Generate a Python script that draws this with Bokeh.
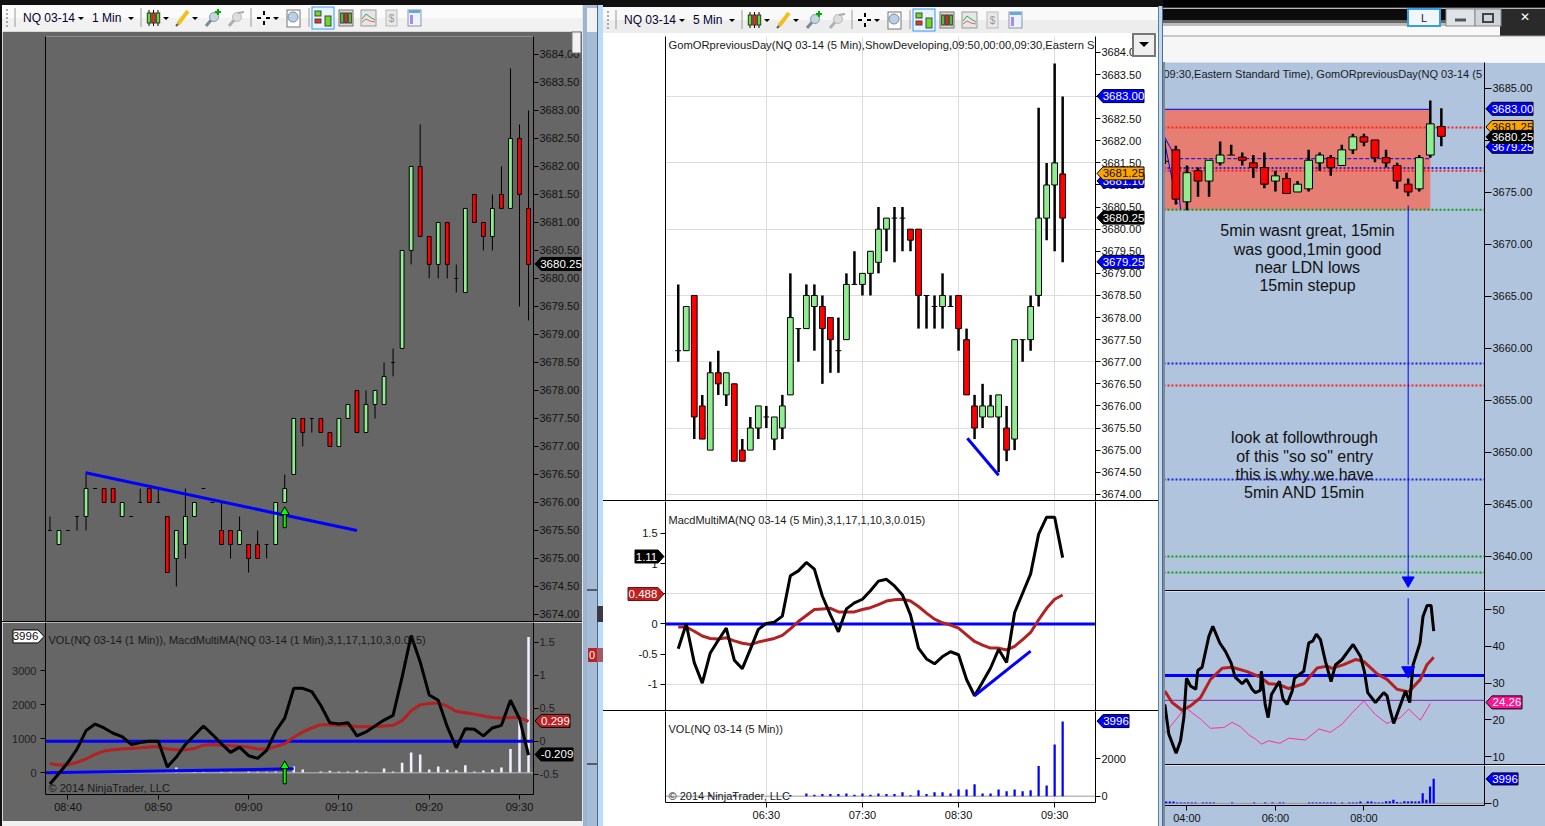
from bokeh.plotting import figure
from bokeh.layouts import row, column
from bokeh.embed import file_html
from bokeh.resources import INLINE
from bokeh.models import (Range1d, LinearAxis, FixedTicker, NumeralTickFormatter, Label, Grid, Div)

# ---------- 1 minute chart ----------
m1_open = [3675.5,3675.25,3675.5,3675.75,3675.75,3676.25,3676.25,3676.25,3675.75,3675.75,3676,3676.25,3676,3675.75,3675,3675.25,3675.75,3676.25,3676,3675.5,3675.5,3675.25,3675.25,3675.25,3675.25,3675.25,3676,3676.5,3677.5,3677.5,3677.5,3677.25,3677,3677.5,3678,3677.25,3677.75,3677.75,3678.5,3678.75,3680.5,3682,3680.75,3680.25,3681,3680,3679.75,3681.5,3681,3680.75,3681.5,3681.25,3682.5,3681.25]
m1_high = [3675.75,3675.5,3675.5,3675.75,3676.5,3676.25,3676.25,3676.25,3676,3675.75,3676.25,3676.25,3676.25,3675.75,3675.5,3676.25,3676,3676.25,3676,3676,3675.5,3675.75,3675.25,3675.5,3675.25,3676,3676.5,3677.5,3677.5,3677.5,3677.5,3677.25,3677.5,3677.75,3678,3678,3678,3678.5,3678.75,3680.5,3682,3682.75,3680.75,3681,3681,3680.25,3681.25,3681.5,3681,3681.5,3682,3683.75,3682.75,3683]
m1_low = [3675.5,3675.25,3675.5,3675.5,3675.5,3676.25,3676,3676,3675.75,3675.75,3676,3676,3676,3674.75,3674.5,3675,3675.75,3676.25,3676,3675.25,3675,3675.25,3674.75,3675,3675,3675.25,3676,3676.5,3677,3677.25,3677.25,3677,3677,3677.5,3677.25,3677.25,3677.5,3677.75,3678.25,3678.75,3680.25,3680.75,3680,3680,3680,3679.75,3679.75,3681,3680.5,3680.5,3681.25,3681.25,3679.5,3679.25]
m1_close = [3675.5,3675.5,3675.5,3675.75,3676.25,3676.25,3676,3676,3676,3675.75,3676,3676,3676,3674.75,3675.5,3675.75,3676,3676.25,3676,3675.25,3675.25,3675.5,3675,3675,3675.25,3676,3676.25,3677.5,3677.25,3677.5,3677.25,3677,3677.5,3677.75,3677.25,3677.75,3678,3678.25,3678.5,3680.5,3682,3680.75,3680.25,3681,3680.25,3680,3681.25,3681,3680.75,3681.25,3681.25,3682.5,3681.5,3680.25]
m1_macd = [-0.65,-0.49,-0.32,-0.12,0.16,0.26,0.20,0.12,0.07,-0.05,-0.02,0.0,0.0,-0.39,-0.24,-0.05,0.09,0.23,0.10,-0.04,-0.17,-0.09,-0.22,-0.26,-0.14,0.15,0.35,0.80,0.80,0.75,0.54,0.28,0.26,0.28,0.08,0.14,0.23,0.32,0.39,0.97,1.60,1.20,0.70,0.62,0.22,-0.10,0.19,0.18,0.08,0.20,0.24,0.62,0.34,-0.21]
m1_avg = [-0.34,-0.36,-0.36,-0.32,-0.27,-0.20,-0.15,-0.13,-0.12,-0.11,-0.10,-0.09,-0.08,-0.12,-0.13,-0.13,-0.11,-0.06,-0.05,-0.06,-0.07,-0.08,-0.09,-0.12,-0.12,-0.08,-0.04,0.06,0.14,0.20,0.25,0.25,0.24,0.24,0.22,0.22,0.22,0.23,0.24,0.31,0.46,0.55,0.57,0.58,0.53,0.45,0.43,0.41,0.38,0.36,0.35,0.36,0.36,0.30]
m1_vol = [0,0,0,30,0,0,0,0,0,0,0,0,0,20,160,0,30,30,0,30,30,0,40,30,30,40,60,190,100,0,40,60,40,40,70,40,0,130,40,300,600,540,100,190,90,70,220,40,70,100,160,700,1590,3996]
m1_ticks = [2,12,22,32,42,52]
m1_labels = ["08:40","08:50","09:00","09:10","09:20","09:30"]

# ---------- 5 minute chart ----------
m5_open = [3677.25,3677.25,3678.5,3676,3675,3676.75,3676.25,3676.5,3675,3675,3675.5,3675.75,3675.25,3675.5,3676.25,3677.75,3677.75,3678.25,3678.25,3678,3677.25,3677.5,3678.75,3678.75,3679,3679.25,3680,3680.25,3680.25,3680,3680,3678.5,3678.25,3678.25,3678.25,3678.5,3677.5,3676,3675.75,3675.75,3675.75,3675.5,3675.25,3677.5,3677.5,3678.5,3680.25,3681,3681.25]
m5_high = [3678.75,3678.25,3678.5,3676.25,3677,3677.25,3676.75,3676.5,3675.25,3675.75,3676,3676,3675.75,3676.25,3679,3677.75,3678.75,3678.75,3678.5,3678,3678,3679,3679.5,3679,3679.5,3680.5,3680.25,3680.5,3680.5,3680,3680,3678.5,3678.5,3679,3678.5,3678.5,3677.75,3676.25,3676.5,3676.25,3676.25,3676,3677.5,3677.5,3678.5,3682.75,3681.5,3683.75,3683]
m5_low = [3677,3677.25,3675.25,3675.25,3675,3676.25,3676,3674.75,3674.75,3675,3675.25,3675.5,3675,3675.25,3676.25,3677,3677.75,3677.25,3676.5,3676.75,3676.75,3677.5,3678.75,3678.5,3678.5,3679,3679.5,3679.25,3679.5,3679.5,3677.75,3677.75,3677.75,3677.75,3678.25,3677.25,3676.25,3675.25,3675.5,3675.75,3674.5,3674.75,3675,3677,3677.25,3678.25,3679.75,3679.5,3679.25]
m5_close = [3677.25,3678.25,3675.75,3675.25,3676.75,3676.5,3676.75,3674.75,3674.75,3675.5,3676,3675.75,3675.75,3676,3678,3677.75,3678.5,3678.5,3677.75,3677.5,3677.25,3678.75,3678.75,3679,3679.5,3680,3680.25,3680.25,3680.25,3679.75,3678.5,3678.5,3678.25,3678.5,3678.25,3677.75,3676.25,3675.5,3676,3676,3676.25,3675,3677.5,3677.5,3678.25,3680.25,3681,3681.5,3680.25]
m5_macd = [-0.41,0,-0.64,-0.98,-0.48,-0.27,-0.07,-0.60,-0.74,-0.42,-0.09,0.01,0.03,0.13,0.80,0.88,1.02,0.91,0.46,0.15,-0.13,0.25,0.35,0.41,0.55,0.71,0.74,0.63,0.48,0.15,-0.40,-0.58,-0.66,-0.54,-0.46,-0.51,-0.92,-1.19,-0.96,-0.73,-0.42,-0.64,0.19,0.51,0.83,1.49,1.77,1.77,1.10]
m5_avg = [-0.05,-0.05,-0.12,-0.20,-0.24,-0.25,-0.23,-0.28,-0.32,-0.34,-0.30,-0.27,-0.24,-0.19,-0.08,0.04,0.14,0.24,0.25,0.26,0.20,0.20,0.20,0.24,0.27,0.32,0.38,0.40,0.41,0.38,0.29,0.18,0.08,0.02,-0.02,-0.07,-0.18,-0.29,-0.35,-0.40,-0.40,-0.43,-0.37,-0.26,-0.14,0.07,0.26,0.41,0.48]
m5_vol = [0,0,0,0,70,0,0,70,0,0,0,0,0,0,60,0,140,70,110,110,110,140,70,140,70,140,110,110,210,50,320,110,210,210,140,360,360,640,140,140,360,270,360,270,320,1610,570,2770,3996]
m5_ticks = [11,23,35,47]
m5_labels = ["06:30","07:30","08:30","09:30"]

# ---------- 15 minute chart ----------
m15_open = [3678,3679.1,3674.1,3677.1,3676.1,3677.85,3678.6,3678.4,3677.85,3677.4,3676.1,3676.35,3675.05,3675.35,3677.85,3678.35,3677.6,3679.1,3680.35,3680.05,3678.35,3677.6,3675.8,3675.35,3678.6,3681.35]
m15_high = [3680,3679.5,3677.6,3677.4,3678.1,3679.9,3679.6,3678.85,3678.6,3678.85,3677.1,3676.9,3676.1,3679.1,3678.85,3678.6,3679.6,3680.65,3680.65,3680.05,3679.1,3677.85,3676.35,3678.6,3683.85,3683.1]
m15_low = [3677.75,3673.85,3673.3,3674.6,3674.6,3677.6,3678.6,3677.6,3676.4,3675.4,3675.1,3674.9,3675.05,3675.1,3677.1,3676.6,3677.6,3678.7,3679.45,3677.9,3677.4,3675.35,3674.65,3675.1,3678.35,3679.45]
m15_close = [3678,3674.36,3676.9,3676.1,3678.1,3678.6,3678.6,3678.1,3677.4,3675.8,3676.6,3674.9,3675.8,3678.1,3678.6,3677.4,3679.1,3680.35,3679.85,3678.35,3677.85,3676.1,3675.05,3678.35,3681.6,3680.4]
m15_black_t = [0,.36,1.02,1.42,1.72,1.96,2.32,2.80,2.98,3.37,3.98,4.34,4.97,5.48,5.99,6.36,6.99,7.38,7.89,8.19,8.64,8.73,9.07,9.34,9.64,10.36,10.69,11.05,11.51,11.72,12.56,13.01,13.37,13.70,14.07,14.52,15.03,15.42,16.02,17.02,17.68,18.04,18.34,19.04,19.79,20.09,20.39,20.69,21.75,22.14,22.44,23.07,23.34,23.71,24.07,24.31]
m15_black = [24.2,16.1,10.9,14.3,20.6,31.3,29.2,28.3,33.4,34.3,42.7,45.4,40.9,38.6,35.5,31.6,29.8,31.0,28.3,27.4,28.0,33.2,24.2,20.6,26.9,30.5,25.6,24.2,27.8,31.3,33.2,40.9,41.4,43.3,41.8,35.9,30.4,34.9,36.4,40.5,37.3,33.2,27.4,24.7,27.4,26.5,22.4,19.0,27.8,24.7,34.9,40.9,48.1,51.1,51.1,44.1]
m15_red_t = [0,.66,1.57,2.32,3.22,4.13,5.18,6.08,7.44,8.64,9.40,10.30,11.20,12.56,13.77,14.67,15.12,16.17,17.23,17.98,19.19,20.09,20.99,22.05,23.10,23.70,24.31]
m15_red = [27.8,24.7,22.6,23.8,26.0,31.0,34.0,34.3,33.1,31.6,29.8,29.6,28.5,29.8,34.1,34.6,34.0,35.0,36.4,35.9,32.5,31.0,28.3,27.6,31.0,35.0,37.0]
m15_pink_t = [0,1.87,3.22,4.13,5.33,6.08,6.84,7.59,8.19,8.73,9.40,10.39,11.20,12.71,13.92,14.97,16.02,16.93,17.98,19.04,20.09,21.30,22.05,23.10,24.0]
m15_pink = [16.3,23.3,20.2,17.7,17.9,19.3,18.1,15.9,14.8,13.4,14.3,13.6,15.0,14.5,17.5,16.6,18.8,21.9,25.1,21.4,19.0,20.6,22.9,19.9,24.4]
m15_vol = [300,300,300,150,150,150,150,150,150,0,150,150,150,150,0,0,0,0,150,0,0,0,0,0,150,0,0,150,0,150,0,150,150,0,0,0,0,0,0,150,150,150,150,150,150,150,150,0,150,0,150,150,150,300,0,300,300,150,150,150,350,350,600,200,150,350,300,350,300,350,1650,600,2750,3996]
m15_ticks = [2,10,18]
m15_labels = ["04:00","06:00","08:00"]
m15_dotted = [(3681.25,"#ff2020"),(3677.35,"#2020e0"),(3677.1,"#ff2020"),(3673.33,"#119911"),(3658.56,"#2020e0"),(3656.44,"#ff2020"),(3647.4,"#2020e0"),(3640.0,"#119911"),(3638.46,"#119911")]

FONT = "Liberation Sans"
GREEN, RED = "#90EE90", "#FF0000"
META = {}


# ---- window chrome: plain page elements, not charts ----
class Svg:
    def __init__(self):
        self.parts = []

    def rect(self, x, y, w, h, fill, stroke=None, sw=1):
        s = f' stroke="{stroke}" stroke-width="{sw}"' if stroke else ""
        self.parts.append(f'<rect x="{x}" y="{y}" width="{w}" height="{h}" fill="{fill}"{s}/>')

    def line(self, x0, y0, x1, y1, c="#000000", w=1):
        self.parts.append(f'<line x1="{x0}" y1="{y0}" x2="{x1}" y2="{y1}" stroke="{c}" stroke-width="{w}"/>')

    def poly(self, pts, fill, stroke="none"):
        p = " ".join(f"{a},{b}" for a, b in pts)
        self.parts.append(f'<polygon points="{p}" fill="{fill}" stroke="{stroke}"/>')

    def path(self, pts, c, w=1):
        p = " ".join(f"{a},{b}" for a, b in pts)
        self.parts.append(f'<polyline points="{p}" fill="none" stroke="{c}" stroke-width="{w}"/>')

    def circle(self, x, y, r, fill, stroke):
        self.parts.append(f'<circle cx="{x}" cy="{y}" r="{r}" fill="{fill}" stroke="{stroke}"/>')

    def text(self, x, y, s, size=12, c="#000033", anchor="start", font=FONT):
        self.parts.append(f'<text x="{x}" y="{y}" font-family="{font}" font-size="{size}" fill="{c}" '
                          f'text-anchor="{anchor}" dominant-baseline="central">{s}</text>')


def div(w, h, bg, svg=None):
    inner = "".join(svg.parts) if svg else ""
    return Div(text=f'<svg width="{w}" height="{h}" style="display:block">{inner}</svg>', width=w, height=h, margin=0,
               styles={"background": bg, "overflow": "hidden", "line-height": "0", "padding": "0"})


def toolbar(s, dx, cy, interval):
    caret = lambda x: s.poly([(x - 3, cy - 1), (x + 3, cy - 1), (x, cy + 2)], "black")
    for yy in (cy - 8, cy - 4, cy, cy + 4, cy + 8):
        s.rect(6 + dx, yy - 1, 2, 2, "#aaaaaa")
    for xx in (15, 141, 251, 309):
        s.line(xx + dx, cy - 10, xx + dx, cy + 9, "#9a9a9a")
    s.text(23 + dx, cy, "NQ 03-14")
    caret(81 + dx)
    s.text(92 + dx, cy, interval)
    caret(131 + dx)
    for xx, c in ((149, "#66dd22"), (153.5, "#ee3322"), (158, "#66dd22")):
        s.line(xx + dx, cy - 8, xx + dx, cy + 8)
        s.rect(xx - 1.7 + dx, cy - 5, 3.4, 10, c, "#333333")
    caret(166 + dx)
    s.line(178 + dx, cy + 6, 188 + dx, cy - 7, "#f0c020", 4)
    s.line(176 + dx, cy + 8, 178 + dx, cy + 6, "#555555", 2)
    caret(195 + dx)
    s.line(206 + dx, cy + 8, 212 + dx, cy + 1, "#7a8a99", 3)
    s.circle(214 + dx, cy - 1, 4.5, "#c7d5e0", "#8899aa")
    s.line(215 + dx, cy - 6, 221 + dx, cy - 6, "#00aa00", 2)
    s.line(218 + dx, cy - 9, 218 + dx, cy - 3, "#00aa00", 2)
    s.line(229 + dx, cy + 8, 235 + dx, cy + 1, "#b0b0b0", 3)
    s.circle(237 + dx, cy - 1, 4.5, "#dddddd", "#bbbbbb")
    s.line(238 + dx, cy - 5, 244 + dx, cy - 6, "#aaaaaa", 2)
    for a, b, c_, d_ in ((257, cy, 261, cy), (266, cy, 270, cy), (264, cy - 7, 264, cy - 3), (264, cy + 3, 264, cy + 7)):
        s.line(a + dx, b, c_ + dx, d_, "black", 2)
    caret(276 + dx)
    s.rect(287 + dx, cy - 8, 13, 17, "white", "#777777")
    s.circle(293 + dx, cy - 1, 5, "#b8d0ea", "#7a8a99")
    s.rect(312 + dx, cy - 11, 22, 22, "#eaf4ff", "#3399ff")
    for xx, y0, y1, c in ((318, cy - 7, cy - 2, "#66dd22"), (318, cy + 1, cy + 5, "#ee3322"), (328, cy - 2, cy + 8, "#66dd22")):
        s.rect(xx - 3 + dx, y0, 6, y1 - y0, c, "#444444")
    s.rect(339 + dx, cy - 8, 14, 16, "#d8d8d8", "#777777")
    for xx, c in ((342, "#66dd22"), (346, "#ee3322"), (350, "#66dd22")):
        s.rect(xx - 1.3 + dx, cy - 5, 2.6, 10, c, "#333333")
    s.rect(361 + dx, cy - 8, 15, 16, "#e6e6e6", "#999999")
    s.path([(362 + dx, cy + 1), (366 + dx, cy - 4), (370 + dx, cy - 1), (375 + dx, cy + 2)], "#33aa55")
    s.path([(362 + dx, cy + 4), (366 + dx, cy + 1), (370 + dx, cy + 3), (375 + dx, cy + 4)], "#dd6666")
    s.rect(386 + dx, cy - 8, 11, 16, "#e8e8e8", "#bbbbbb")
    s.text(391.5 + dx, cy, "$", 10, "#999999", "middle")
    s.rect(408 + dx, cy - 8, 13, 16, "#eef3fb", "#8899aa")
    s.rect(409 + dx, cy - 8, 11, 3, "#66aadd")
    s.rect(410 + dx, cy - 3, 3, 9, "#aa88ee")


def panel(w, h, xr, yr, bg, bl, br, bt, bb, frame_abs, frame_top, yside="right", bottom=False):
    p = figure(width=w, height=h, x_range=Range1d(*xr), y_range=Range1d(*yr), toolbar_location=None,
               output_backend="svg", x_axis_location="below" if bottom else None,
               y_axis_location=yside, min_border_left=bl, min_border_right=br, min_border_top=bt,
               min_border_bottom=bb, background_fill_color=bg, border_fill_color=bg, outline_line_color=None)
    p.grid.visible = False
    META[id(p)] = dict(left=frame_abs, top=frame_top, fh=h - bt - bb)
    return p


def style_axis(a, ticks, fmt="0.00", tc="#111111"):
    a.ticker = FixedTicker(ticks=ticks)
    a.formatter = NumeralTickFormatter(format=fmt)
    a.minor_tick_line_color = None
    a.major_tick_in = 0
    a.major_tick_out = 5
    a.major_label_standoff = 1
    a.axis_line_color = "black"
    a.major_tick_line_color = "black"
    a.major_label_text_font = FONT
    a.major_label_text_font_size = "11px"
    a.major_label_text_color = tc


def bare_axis(p, side):
    a = LinearAxis(ticker=FixedTicker(ticks=[]), major_label_text_font_size="0px", minor_tick_line_color=None,
                   major_tick_line_color=None, axis_line_color="black")
    p.add_layout(a, side)


def time_axis(p, ticks, labels, standoff):
    a = p.xaxis[0]
    a.ticker = FixedTicker(ticks=ticks)
    a.major_label_overrides = dict(zip(ticks, labels))
    a.minor_tick_line_color = None
    a.major_tick_in = 0
    a.major_tick_out = 5
    a.major_label_standoff = standoff
    a.axis_line_color = "black"
    a.major_tick_line_color = "black"
    a.major_label_text_font = FONT
    a.major_label_text_font_size = "11px"
    a.major_label_text_color = "#111111"


def candles(p, o, h, l, c, bw, wick):
    x = list(range(len(o)))
    p.segment(x, h, x, l, line_color="black", line_width=wick)
    for i in range(len(o)):
        if o[i] == c[i]:
            p.segment([x[i] - bw / 2], [o[i]], [x[i] + bw / 2], [o[i]], line_color="black", line_width=1)
    gi = [i for i in range(len(o)) if c[i] > o[i]]
    ri = [i for i in range(len(o)) if c[i] < o[i]]
    p.vbar([x[i] for i in gi], top=[c[i] for i in gi], bottom=[o[i] for i in gi], width=bw,
           fill_color=GREEN, line_color="black", line_width=1)
    p.vbar([x[i] for i in ri], top=[o[i] for i in ri], bottom=[c[i] for i in ri], width=bw,
           fill_color=RED, line_color="black", line_width=1)


def text(p, px, val, s, size="11px", color="#1a1a1a", align="left"):
    p.add_layout(Label(x=px - META[id(p)]["left"], y=val, x_units="screen", y_units="data", text=s, text_font=FONT,
                       text_font_size=size, text_color=color, text_align=align, text_baseline="middle"))


OV = Svg()  # price tags that sit over the axes; their height comes from the panel's scale


def tag(p, x0, x1, val, s, fill, color="white", rng=None, point="left", line="#000000", hh=6.5):
    rng = rng or p.y_range
    m = META[id(p)]
    y = m["top"] + (rng.end - val) / (rng.end - rng.start) * m["fh"]
    if point == "left":
        pts = [(x0, y), (x0 + 6, y - hh), (x1, y - hh), (x1, y + hh), (x0 + 6, y + hh)]
        mid = (x0 + 6 + x1) / 2
    else:
        pts = [(x1, y), (x1 - 6, y - hh), (x0, y - hh), (x0, y + hh), (x1 - 6, y + hh)]
        mid = (x0 + x1 - 6) / 2
    OV.poly(pts, fill, line)
    OV.text(mid, y, s, 11.5, color, "middle")


def sep(w, color="#000000"):
    return div(w, 1, color)


# ================= left window =================
LGREY = "#666666"
L_W = 580
xr1 = (-0.49, 53.55)
s = Svg()
s.rect(0, 0, L_W, 5, "#111111")
s.rect(0, 5, L_W, 13, "#fbfbfb")
s.rect(0, 18, L_W, 13, "#f1f1f1")
toolbar(s, -2, 18, "1 Min")
t1 = div(L_W, 31, "#f7f7f7", s)

pr1 = (3673.875, 3684.32)
p1 = panel(L_W, 590, xr1, pr1, LGREY, 43, 48, 5, 0, 45, 36)
style_axis(p1.yaxis[0], [3674 + i * 0.5 for i in range(21)])
bare_axis(p1, "left")
candles(p1, m1_open, m1_high, m1_low, m1_close, 0.42, 1)
p1.line([3.95, 34.0], [3676.53, 3675.5], line_color="#0000FF", line_width=3)
p1.vbar([26], top=[3675.8], bottom=[3675.55], width=0.34, fill_color="#00FF00", line_color="black")
p1.scatter([26], [3675.83], marker="triangle", size=9, fill_color="#00FF00", line_color="black")
tag(p1, 535, 581, 3680.25, "3680.25", "#000000", hh=6.5)

vr1 = (-637, 4421)
mr1 = Range1d(-0.808, 1.798)
v1 = panel(L_W, 199, xr1, vr1, LGREY, 43, 48, 0, 27, 45, 622, yside="left", bottom=True)
style_axis(v1.yaxis[0], [0, 1000, 2000, 3000], "0", "#222222")
v1.yaxis[0].major_label_standoff = 4
v1.extra_y_ranges = {"macd": mr1}
ma1 = LinearAxis(y_range_name="macd")
style_axis(ma1, [-0.5, 0, 0.5, 1, 1.5], "0.[0]", "#222222")
v1.add_layout(ma1, "right")
time_axis(v1, m1_ticks, m1_labels, 1)
v1.vbar(list(range(54)), top=m1_vol, bottom=0, width=0.28, fill_color="#F0F0FF", line_color=None)
v1.line([-0.49, 53.55], [0, 0], line_color="#bbbbbb", line_width=1)
v1.line([-0.49, 53.55], [0, 0], y_range_name="macd", line_color="#0000FF", line_width=3)
v1.line([-0.49, 27], [0, 117], line_color="#0000FF", line_width=3)
v1.line(list(range(54)), m1_avg, y_range_name="macd", line_color="#B22222", line_width=3)
v1.line(list(range(54)), m1_macd, y_range_name="macd", line_color="black", line_width=3)
v1.vbar([26], top=[160], bottom=[-323], width=0.34, fill_color="#00FF00", line_color="black")
v1.scatter([26], [200], marker="triangle", size=9, fill_color="#00FF00", line_color="black")
text(v1, 48, 3892, "VOL(NQ 03-14 (1 Min)), MacdMultiMA(NQ 03-14 (1 Min),3,1,17,1,10,3,0.015)")
text(v1, 48, -450, "© 2014 NinjaTrader, LLC")
tag(v1, 13, 44, 3996, "3996", "#ffffff", "#111111", point="right")
tag(v1, 535, 570, 0.299, "0.299", "#C02020", rng=mr1)
tag(v1, 535, 573, -0.209, "-0.209", "#000000", rng=mr1)
f1 = div(L_W, 5, "#f0f0f0")
left_col = column(t1, p1, sep(L_W), v1, f1, spacing=0)
edge = div(2, 826, "#111111")
OV.rect(572, 32, 9, 21, "#f2f2f2", "#777777")

# ================= gap between windows =================
s = Svg()
s.rect(0, 0, 21, 826, "#a6bbd6")
s.rect(0, 0, 1, 826, "#dfe6ee")
s.rect(1, 8, 4, 818, "#9fb3cc")
s.rect(15, 5, 1, 821, "#566676")
s.rect(16, 5, 5, 821, "#b9dcf8")
s.rect(0, 0, 21, 5, "#111111")
s.rect(5, 8, 10, 24, "#f2f2f2")
s.rect(6, 648, 9, 14, "#C02020")
s.text(10, 655, "0", 11, "white", "middle")
s.line(5, 590, 15, 590)
s.line(5, 764, 15, 764)
s.rect(15, 606, 6, 16, "#3a3a44")
s.rect(15, 648, 6, 14, "#a05a68")
g1 = div(21, 826, "#a6bbd6", s)

# ================= middle window =================
M_W = 555
xr5 = (-1.59, 52.1)
GC = "#DDDDDD"
s = Svg()
s.rect(0, 0, M_W, 7, "#111111")
s.rect(0, 7, M_W, 13, "#f9f9f9")
s.rect(0, 20, M_W, 13, "#ededed")
toolbar(s, -2, 20, "5 Min")
t5 = div(M_W, 33, "#f3f3f3", s)

pr5 = (3673.86, 3684.36)
p5 = panel(M_W, 467, xr5, pr5, "white", 62, 63, 3, 0, 665, 36)
style_axis(p5.yaxis[0], [3674 + i * 0.5 for i in range(21)])
bare_axis(p5, "left")
p5.add_layout(Grid(dimension=1, ticker=FixedTicker(ticks=[3674, 3675.5, 3677, 3678.5, 3680, 3681.5, 3683]), grid_line_color=GC))
p5.add_layout(Grid(dimension=0, ticker=FixedTicker(ticks=m5_ticks), grid_line_color=GC))
candles(p5, m5_open, m5_high, m5_low, m5_close, 0.72, 2.5)
p5.line([36.1, 40], [3675.27, 3674.43], line_color="#0000FF", line_width=3)
text(p5, 668, 3684.16, "GomORpreviousDay(NQ 03-14 (5 Min),ShowDeveloping,09:50,00:00,09:30,Eastern S", size="11.2px")
tag(p5, 1097, 1144, 3683.0, "3683.00", "#0000FF")
tag(p5, 1097, 1144, 3681.08, "3681.10", "#0000FF")
tag(p5, 1097, 1144, 3681.25, "3681.25", "#FFA500", "#111111")
tag(p5, 1097, 1144, 3680.25, "3680.25", "#000000")
tag(p5, 1097, 1144, 3679.25, "3679.25", "#0000FF")
OV.rect(1133, 34, 22, 22, "#efefef", "#777777", 2)
OV.poly([(1139, 42), (1149, 42), (1144, 47)], "#000000")

mr5 = (-1.434, 2.03)
m5 = panel(M_W, 209, xr5, mr5, "white", 62, 63, 0, 0, 665, 501, yside="left")
style_axis(m5.yaxis[0], [-1, -0.5, 0, 0.5, 1, 1.5], "0.[0]")
m5.yaxis[0].major_label_standoff = 3
bare_axis(m5, "right")
m5.add_layout(Grid(dimension=1, ticker=FixedTicker(ticks=[-1, 0.5]), grid_line_color=GC))
m5.add_layout(Grid(dimension=0, ticker=FixedTicker(ticks=m5_ticks), grid_line_color=GC))
m5.line([-1.59, 52.1], [0, 0], line_color="#0000FF", line_width=3)
m5.line(list(range(49)), m5_avg, line_color="#B22222", line_width=3)
m5.line(list(range(49)), m5_macd, line_color="black", line_width=3)
m5.line([37, 44], [-1.19, -0.45], line_color="#0000FF", line_width=3)
text(m5, 668, 1.73, "MacdMultiMA(NQ 03-14 (5 Min),3,1,17,1,10,3,0.015)")
tag(m5, 635, 664, 1.11, "1.11", "#000000", point="right")
tag(m5, 628, 664, 0.488, "0.488", "#C02020", point="right", line="#661111")

vr5 = (-339, 4536)
v5 = panel(M_W, 115, xr5, vr5, "white", 62, 63, 0, 24, 665, 711, bottom=True)
style_axis(v5.yaxis[0], [0, 2000], "0")
bare_axis(v5, "left")
time_axis(v5, m5_ticks, m5_labels, 1)
v5.add_layout(Grid(dimension=0, ticker=FixedTicker(ticks=m5_ticks), grid_line_color=GC))
v5.line([-1.59, 52.1], [0, 0], line_color="#999999", line_width=1)
v5.vbar(list(range(49)), top=m5_vol, bottom=0, width=0.28, fill_color="#0000FF", line_color=None)
text(v5, 668, 3592, "VOL(NQ 03-14 (5 Min))")
text(v5, 668, 0, "© 2014 NinjaTrader, LLC")
tag(v5, 1097, 1129, 3996, "3996", "#0000FF")
mid_col = column(t5, p5, sep(M_W), m5, sep(M_W), v5, spacing=0)

s = Svg()
s.rect(0, 0, 5, 826, "#b9dcf8")
s.rect(0, 0, 1, 826, "#6a7a8a")
s.rect(4, 0, 1, 826, "#5a6a7a")
s.rect(0, 0, 5, 6, "#111111")
g2 = div(5, 826, "#b9dcf8", s)

# ================= right window =================
BL = "#B0C4DE"
R_W = 382
xr15 = (-0.12, 28.9)
s = Svg()
s.rect(0, 0, R_W, 62, "#f6f6f6")
s.rect(0, 0, R_W, 8, "#000000")
s.line(0, 8, R_W, 8, "#777777")
s.rect(0, 9, 337, 11, "#0c0c0c")
s.rect(0, 20, 337, 3, "#666666")
s.rect(0, 23, 337, 3, "#bbbbbb")
s.rect(0, 26, 337, 10, "#f8f8f8")
s.rect(337, 9, 45, 27, "#2a2a2a")
s.line(0, 36, R_W, 36, "#999999")
s.rect(245, 9, 32, 17, "#f2f6fb", "#33a0e0", 2)
s.text(261, 17.5, "L", 11, "#222222", "middle")
s.rect(283, 9, 29, 17, "#dfe3e8", "#888888")
s.rect(312, 9, 26, 17, "#cfd4da", "#888888")
s.line(292, 20, 303, 20, "#555555", 3)
s.rect(320, 14, 10, 8, "none", "#444444", 2)
s.text(362, 17, "✕", 12, "white", "middle", "DejaVu Sans")
t15 = div(R_W, 62, "#f6f6f6", s)

pr15 = (3636.73, 3687.5)
p15 = panel(R_W, 528, xr15, pr15, BL, 0, 61, 0, 0, 1163, 62)
style_axis(p15.yaxis[0], [3640 + i * 5 for i in range(10)])
p15.yaxis[0].major_tick_out = 7
p15.quad(left=[-0.12], right=[24.0], top=[3683], bottom=[3673.33], fill_color="#E67E73", line_color=None)
for lvl, col in m15_dotted:
    p15.line([-0.12, 28.9], [lvl, lvl], line_color=col, line_width=2, line_dash="2 2")
p15.line([-0.12, 24.0], [3683, 3683], line_color="#0000FF", line_width=1)
p15.line([1.3, 24.0], [3678.25, 3678.25], line_color="#0000FF", line_width=1, line_dash="4 2")
p15.line([0, 0.96, 1.42], [3680.3, 3678.4, 3673.4], line_color="#0000FF", line_width=1)
p15.line([0.06, 1.12], [3679.4, 3673.9], line_color="#0000FF", line_width=1)
candles(p15, m15_open, m15_high, m15_low, m15_close, 0.7, 2.5)
p15.line([22, 22], [3673.75, 3638], line_color="#0000FF", line_width=1)
p15.scatter([22], [3637.7], marker="inverted_triangle", size=12, color="#0000FF")
text(p15, 1163, 3686.35, '09:30,Eastern Standard Time), GomORpreviousDay(NQ 03-14 (5')
for px, v, txt in ((1307, 3671.35, "5min wasnt great, 15min"), (1307, 3669.52, "was good,1min good"), (1307, 3667.79, "near LDN lows"), (1307, 3666.06, "15min stepup"),
                   (1304, 3651.45, "look at followthrough"), (1304, 3649.62, 'of this "so so" entry'), (1304, 3647.89, "this is why we have"), (1304, 3646.16, "5min AND 15min")):
    text(p15, px, v, txt, "16px", "#111111", "center")
tag(p15, 1486, 1533, 3683.0, "3683.00", "#0000FF")
tag(p15, 1486, 1533, 3681.25, "3681.25", "#FFA500", "#111111")
tag(p15, 1486, 1533, 3679.35, "3679.25", "#0000FF")
tag(p15, 1486, 1533, 3680.3, "3680.25", "#000000")
OV.rect(1163, 62, 2, 764, "#7c8aa0")

mr15 = (7.84, 54.9)
m15 = panel(R_W, 173, xr15, mr15, BL, 0, 61, 0, 0, 1163, 591)
style_axis(m15.yaxis[0], [10, 20, 30, 40, 50], "0")
m15.yaxis[0].major_tick_out = 7
m15.line([-0.12, 28.9], [32.07, 32.07], line_color="#0000FF", line_width=3)
m15.line([-0.12, 28.9], [25.3, 25.3], line_color="#8020B0", line_width=1)
m15.line(m15_pink_t, m15_pink, line_color="#FF3090", line_width=1)
m15.line(m15_red_t, m15_red, line_color="#B22222", line_width=3)
m15.line(m15_black_t, m15_black, line_color="black", line_width=3)
m15.line([22, 22], [53.06, 35], line_color="#0000FF", line_width=1)
m15.scatter([22], [33.4], marker="inverted_triangle", size=13, color="#0000FF")
tag(m15, 1486, 1522, 24.6, "24.26", "#FF1493")

vr15 = (-350, 6144)
v15 = panel(R_W, 61, xr15, vr15, BL, 0, 61, 0, 19, 1163, 765, bottom=True)
style_axis(v15.yaxis[0], [0], "0")
v15.yaxis[0].major_tick_out = 7
time_axis(v15, m15_ticks, m15_labels, 1)
v15_t = [(17 + 11 * k - 13) / 33.2 for k in range(len(m15_vol))]
v15.line([-0.12, 28.9], [0, 0], line_color="#999999", line_width=1)
v15.vbar(v15_t, top=m15_vol, bottom=0, width=0.2, fill_color="#0000FF", line_color=None)
tag(v15, 1486, 1518, 3996, "3996", "#0000FF", hh=6)
right_col = column(t15, p15, sep(R_W), m15, sep(R_W), v15, spacing=0)

overlay = Div(text=f'<svg width="1545" height="826" style="display:block">{"".join(OV.parts)}</svg>', width=1545, height=826,
              margin=0, styles={"position": "absolute", "left": "0px", "top": "0px", "z-index": "10",
                                "pointer-events": "none", "background": "transparent", "line-height": "0"})
page = row(edge, left_col, g1, mid_col, g2, right_col, overlay, spacing=0)
page.styles = {"position": "absolute", "left": "0px", "top": "0px"}
open("out.html", "w").write(file_html(page, INLINE))
